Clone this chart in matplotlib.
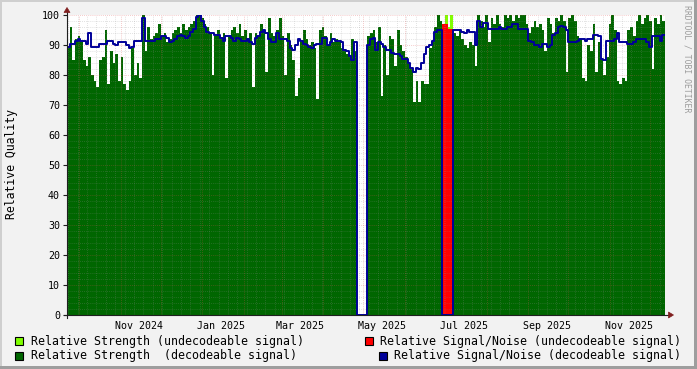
import matplotlib
matplotlib.use("Agg")
import matplotlib.pyplot as plt
import matplotlib.dates as mdates
import numpy as np
import datetime as dt
from matplotlib.patches import Rectangle, Polygon
from matplotlib.lines import Line2D

# ---------------- data (2-day consolidation steps) ----------------
start_date = dt.date(2024, 9, 22)
step_days = 2

strength_decodeable = [
    89, 96, 85, 92, 93, 91, 85, 83, 86, 80,
    78, 76, 85, 86, 95, 77, 88, 84, 87, 78,
    86, 77, 75, 78, 89, 80, 84, 79, 100, 88,
    96, 92, 93, 94, 97, 93, 94, 91, 92, 94,
    95, 96, 94, 97, 95, 96, 97, 98, 100, 100,
    99, 97, 96, 94, 80, 93, 95, 92, 94, 79,
    93, 95, 96, 94, 97, 93, 95, 92, 94, 76,
    94, 93, 97, 95, 81, 99, 94, 93, 95, 99,
    93, 80, 94, 90, 85, 73, 79, 91, 95, 92,
    90, 91, 89, 72, 95, 96, 93, 90, 94, 91,
    92, 91, 89, 88, 87, 86, 92, 88, 0, 0,
    0, 0, 93, 94, 95, 91, 96, 73, 90, 80,
    93, 92, 83, 95, 90, 88, 86, 84, 82, 71,
    78, 71, 78, 77, 77, 89, 91, 96, 100, 98,
    0, 0, 0, 0, 94, 93, 95, 92, 90, 89,
    91, 90, 83, 100, 98, 96, 100, 91, 99, 97,
    100, 97, 96, 100, 99, 100, 98, 100, 99, 100,
    100, 97, 94, 96, 98, 96, 97, 95, 88, 99,
    97, 94, 99, 98, 100, 98, 81, 99, 100, 98,
    93, 92, 79, 78, 90, 88, 97, 81, 91, 85,
    80, 86, 97, 100, 95, 78, 77, 79, 78, 95,
    96, 93, 98, 100, 97, 99, 100, 98, 82, 99,
    97, 100, 98,
]

snr_decodeable = [
    89.5, 90.5, 90.5, 91.5, 92, 91.5, 91.5, 90.5, 94, 89.5,
    89.5, 89.5, 90.5, 90.5, 90.5, 91.5, 91.5, 90.5, 90, 91,
    91, 91, 90, 89, 89.5, 91.5, 91.5, 91.5, 99, 91.5,
    91.5, 91.5, 91.5, 92, 92, 93, 93, 92.5, 91, 91.5,
    92, 93, 93.5, 93, 92.5, 93, 94.5, 95.5, 99.5, 100,
    98, 96, 94.5, 94, 94, 93.5, 93.5, 92.5, 91.5, 93,
    93, 92.5, 91.5, 92.5, 92, 91.5, 91.5, 92, 91, 90.5,
    92.5, 93, 94.5, 95, 94, 92, 91, 91, 94, 92,
    92, 92, 91.5, 89, 88.5, 90, 92, 91.5, 90.5, 90,
    89.5, 89, 90, 90.5, 90.5, 92.5, 92.5, 90, 91, 92,
    91.5, 91.5, 91, 88.5, 88, 86.5, 85, 91, 0, 0,
    0, 0, 90, 92, 92.5, 88.5, 91, 90.5, 89.5, 88.5,
    88.5, 87.5, 87, 87, 86.5, 85.5, 85.5, 84, 82.5, 81,
    82.5, 82, 84, 87, 89.5, 90, 91.5, 94.5, 95, 95,
    0, 0, 0, 0, 95, 95, 95, 94.5, 94, 95,
    94.5, 94.5, 90, 98, 96, 97.5, 97.5, 95.5, 95.5, 95.5,
    95.5, 96, 95.5, 95.5, 96, 96, 97, 97, 95.5, 95.5,
    95.5, 95.5, 91.5, 91, 90, 90, 89.5, 90.5, 90.5, 89.5,
    90, 93.5, 94, 96, 96.5, 96, 95, 91, 91, 91,
    91.5, 92, 92, 91.5, 92, 92, 93.5, 93.5, 93, 85.5,
    85, 91.5, 91.5, 91.5, 92, 94, 91, 91, 91, 90.5,
    90.5, 91, 92, 92, 92, 92, 91, 89.5, 93, 93,
    93, 91.5, 93.5,
]

undecodeable_start = dt.date(2025, 6, 29)
strength_undecodeable = [97, 100, 96, 100]
snr_undecodeable = [97, 97, 95.5, 95.5]

x_label_months = [(2024, 11), (2025, 1), (2025, 3), (2025, 5), (2025, 7), (2025, 9), (2025, 11)]
y_ticks = list(range(0, 101, 10))

legend_entries = [
    ("Relative Strength (undecodeable signal)", "#80FF00"),
    ("Relative Signal/Noise (undecodeable signal)", "#FF0000"),
    ("Relative Strength  (decodeable signal)", "#006600"),
    ("Relative Signal/Noise (decodeable signal)", "#000099"),
]

# ---------------- figure ----------------
W, H = 697, 369
fig = plt.figure(figsize=(W / 100, H / 100), dpi=100, facecolor="#F2F2F2")
L, R, T, B = 67, 665, 15, 315
ax = fig.add_axes([L / W, 1 - B / H, (R - L) / W, (B - T) / H])
ax.set_facecolor("white")

mono = "DejaVu Sans Mono"

def edges_for(start, n):
    d = [start + dt.timedelta(days=step_days * i) for i in range(n + 1)]
    return mdates.date2num(d)

def stepvals(v):
    v = np.asarray(v, dtype=float)
    return np.r_[v, v[-1]]

xe = edges_for(start_date, len(strength_decodeable))
xu = edges_for(undecodeable_start, len(strength_undecodeable))

ax.fill_between(xu, 0, stepvals(strength_undecodeable), step="post", color="#80FF00", lw=0, zorder=1)
ax.fill_between(xu, 0, stepvals(snr_undecodeable), step="post", color="#FF0000", lw=0, zorder=1.1)
ax.fill_between(xe, 0, stepvals(strength_decodeable), step="post", color="#006600", lw=0, zorder=1.2)
ax.step(xe, stepvals(snr_decodeable), where="post", color="#000099", lw=1.4, zorder=3)

x0 = mdates.date2num(start_date)
x1 = xe[-1]
ax.set_xlim(x0, x1)
ax.set_ylim(0, 100)

# grid (drawn over the data, rrdtool style)
MIN_C = (0.56, 0.56, 0.56, 0.35)
MAJ_C = (0.87, 0.31, 0.31, 0.40)
dash = (0, (1, 1.5))
for yv in range(2, 101, 2):
    c = MAJ_C if yv % 10 == 0 else MIN_C
    ax.axhline(yv, color=c, lw=0.6, ls=dash, zorder=2)

d = start_date
while d <= dt.date(2025, 12, 31):
    if d.weekday() == 0 and d.day != 1:
        ax.axvline(mdates.date2num(d), color=MIN_C, lw=0.6, ls=dash, zorder=2)
    if d.day == 1:
        ax.axvline(mdates.date2num(d), color=MAJ_C, lw=0.6, ls=dash, zorder=2)
    d += dt.timedelta(days=1)

# ticks
xt = [mdates.date2num(dt.date(y, m, 15)) for y, m in x_label_months]
xl = [dt.date(y, m, 1).strftime("%b %Y") for y, m in x_label_months]
ax.set_xticks(xt)
ax.set_xticklabels(xl, fontsize=7.2, family=mono)
ax.tick_params(axis="x", length=0, pad=4)
ax.set_yticks(y_ticks)
ax.set_yticklabels([str(v) for v in y_ticks], fontsize=7.2, family=mono)
ax.tick_params(axis="y", length=3, width=0.8, pad=2, color="#1F1F1F")

for s in ax.spines.values():
    s.set_visible(False)

# axes lines with arrows (pixel coords)
def fy(y):
    return H - y

AX_C = "#1F1F1F"
ARR_C = "#801F1F"
fig.add_artist(Line2D([L, L], [fy(318), fy(11)], color=AX_C, lw=0.8, transform=None, zorder=5))
fig.add_artist(Line2D([L - 3, 669], [fy(B), fy(B)], color=AX_C, lw=0.8, transform=None, zorder=5))
fig.add_artist(Polygon([[L - 3, fy(12.5)], [L + 3, fy(12.5)], [L, fy(7.5)]], closed=True,
                       facecolor=ARR_C, edgecolor=ARR_C, lw=0.5, transform=None, zorder=6))
fig.add_artist(Polygon([[668.5, fy(B - 3)], [668.5, fy(B + 3)], [673.5, fy(B)]], closed=True,
                       facecolor=ARR_C, edgecolor=ARR_C, lw=0.5, transform=None, zorder=6))

# labels
fig.text(12 / W, 1 - 164 / H, "Relative Quality", rotation=90, ha="center", va="center",
         fontsize=8.3, family=mono, color="black")
fig.text(687.5 / W, 1 - 5 / H, "RRDTOOL / TOBI OETIKER", rotation=270, ha="center", va="top",
         fontsize=5.9, family=mono, color="#9C9C9C")

# legend
leg_pos = [(15, 341, 30.5), (365, 341, 380), (15, 355.5, 30.5), (379, 355.5, 394)]
for (label, col), (bx, by, tx) in zip(legend_entries, leg_pos):
    fig.add_artist(Rectangle((bx, fy(by) - 4), 8, 8, facecolor=col, edgecolor="black",
                             lw=0.8, transform=None, zorder=5))
    fig.text(tx / W, fy(by) / H, label, ha="left", va="center", fontsize=8.4,
             family=mono, color="black")

# frame shading
fig.add_artist(Rectangle((0, H - 2), W, 2, facecolor="#CFCFCF", lw=0, transform=None))
fig.add_artist(Rectangle((0, 0), 2, H, facecolor="#CFCFCF", lw=0, transform=None))
fig.add_artist(Rectangle((0, 0), W, 3, facecolor="#9E9E9E", lw=0, transform=None))
fig.add_artist(Rectangle((W - 3, 0), 3, H, facecolor="#9E9E9E", lw=0, transform=None))

fig.savefig("out.png", dpi=100, facecolor=fig.get_facecolor())
